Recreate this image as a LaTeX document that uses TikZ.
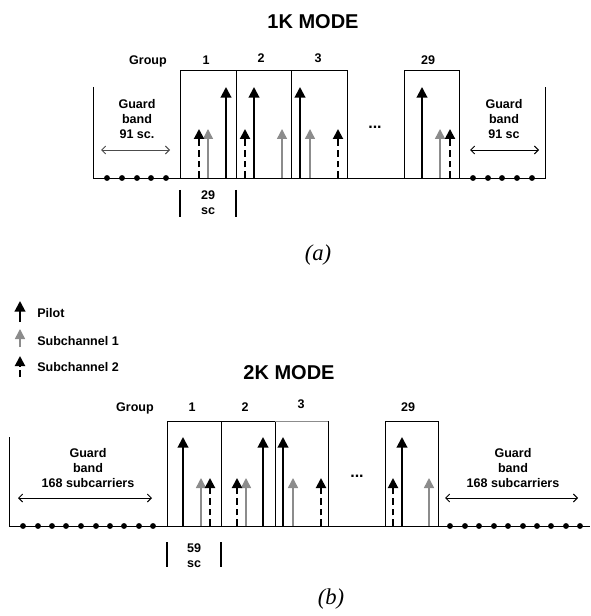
\documentclass[tikz,border=0pt]{standalone}
\usepackage{fontspec}
\setmainfont{Liberation Sans}
\newfontfamily\capfont{Liberation Serif}
\usetikzlibrary{arrows.meta}
\definecolor{subgray}{RGB}{140,140,140}
\tikzset{
  lbl/.style={font=\fontsize{9.4}{11.25}\selectfont\bfseries, inner sep=0pt, anchor=base, align=center},
  ttl/.style={font=\fontsize{15}{18}\selectfont\bfseries, inner sep=0pt, anchor=base},
  capt/.style={font=\fontsize{17}{20}\selectfont\capfont\itshape, inner sep=0pt, anchor=base},
  gap/.style={font=\fontsize{12}{14}\selectfont\bfseries, inner sep=0pt, anchor=base},
  pilot/.style={line width=1.5pt, -{Triangle[width=8pt,length=8pt]}},
  subone/.style={line width=1.1pt, subgray, -{Triangle[width=7.5pt,length=7.5pt]}},
  subtwo/.style={line width=1.5pt, dash pattern=on 5pt off 3pt, -{Triangle[width=7.5pt,length=7.5pt]}},
  grp/.style={line width=0.65pt},
  span/.style={line width=0.7pt, {Straight Barb[length=3pt]}-{Straight Barb[length=3pt]}},
}
\begin{document}
\begin{tikzpicture}[x=0.75pt, y=-0.75pt]
	\useasboundingbox (0,0) rectangle (590,616);

	% ---- 1K mode
	\node[ttl] (t1) at (313,29) {1K MODE};
	\node[lbl] (g1) at (148,64.5) {Group};
	\node[lbl] (g1a) at (206,64.5) {1};
	\node[lbl] (g1b) at (261,62.5) {2};
	\node[lbl] (g1c) at (318,62.5) {3};
	\node[lbl] (g1z) at (428,64.5) {29};
	\node[lbl] (gl1) at (137,138.5) {Guard\\band\\91 sc.};
	\node[lbl] (gr1) at (504,138.5) {Guard\\band\\91 sc};
	\node[lbl] (w1) at (208,214.5) {29\\sc};
	\node[gap] (d1) at (375,129) {...};
	\node[capt] (c1) at (318,260) {(a)};

	\draw[line width=0.7pt] (93,87) -- (93,178) -- (545,178) -- (545,87);
	\foreach \a/\b in {180/236, 236/291, 291/347, 404/459}
		\draw[grp] (\a,70) rectangle (\b,178);
	\foreach \x in {107,122,137,151,166,473,488,502,517,532}
		\fill (\x,178) circle[radius=2.2pt];
	\coordinate (al1) at (101,150); \coordinate (bl1) at (170,150);
	\coordinate (ar1) at (470,150); \coordinate (br1) at (539,150);
	\draw[span, black!70] (al1) -- (bl1);
	\draw[span] (ar1) -- (br1);
	\foreach \x in {226,254,300,422}
		\draw[pilot] (\x,178) -- (\x,87);
	\foreach \x in {208,282,310,440}
		\draw[subone] (\x,178) -- (\x,129);
	\foreach \x in {199,245,338,450}
		\draw[subtwo] (\x,178) -- (\x,129);
	\foreach \x in {180,236}
		\draw[line width=1.1pt] (\x,190) -- (\x,217);

	% ---- legend
	\draw[pilot] (20,322) -- (20,301);
	\draw[subone] (20,347) -- (20,329);
	\draw[subtwo] (20,377) -- (20,356);
	\node[lbl, anchor=base west] (kp) at (37,317.5) {Pilot};
	\node[lbl, anchor=base west] (k1) at (37,345.5) {Subchannel 1};
	\node[lbl, anchor=base west] (k2) at (37,371.5) {Subchannel 2};

	% ---- 2K mode
	\node[ttl] (t2) at (289,379) {2K MODE};
	\node[lbl] (g2) at (135,411.5) {Group};
	\node[lbl] (g2a) at (192,411.5) {1};
	\node[lbl] (g2b) at (245,411.5) {2};
	\node[lbl] (g2c) at (301,408.5) {3};
	\node[lbl] (g2z) at (408,411.5) {29};
	\node[lbl] (gl2) at (88,487.5) {Guard\\band\\168 subcarriers};
	\node[lbl] (gr2) at (513,487.5) {Guard\\band\\168 subcarriers};
	\node[lbl] (w2) at (194,567.5) {59\\sc};
	\node[gap] (d2) at (357,477) {...};
	\node[capt] (c2) at (331,604) {(b)};

	\draw[line width=0.7pt] (9,437) -- (9,526) -- (590,526);
	\foreach \a/\b in {167/221, 221/275, 275/328, 385/438}
		\draw[grp] (\a,421) rectangle (\b,526);
	\draw[grp, subgray] (275,421) -- (328,421);
	\foreach \x in {23,38,52,66,81,96,110,124,139,153,450,465,479,494,508,523,537,551,566,580}
		\fill (\x,526) circle[radius=2.2pt];
	\coordinate (al2) at (18,498); \coordinate (bl2) at (152,498);
	\coordinate (ar2) at (445,498); \coordinate (br2) at (578,498);
	\draw[span] (al2) -- (bl2);
	\draw[span] (ar2) -- (br2);
	\foreach \x in {183,263,283,402}
		\draw[pilot] (\x,526) -- (\x,437);
	\foreach \x in {201,246,293,429}
		\draw[subone] (\x,526) -- (\x,478);
	\foreach \x in {210,237,321,393}
		\draw[subtwo] (\x,526) -- (\x,478);
	\foreach \x in {167,221}
		\draw[line width=1.1pt] (\x,542) -- (\x,567);
\end{tikzpicture}
\end{document}
